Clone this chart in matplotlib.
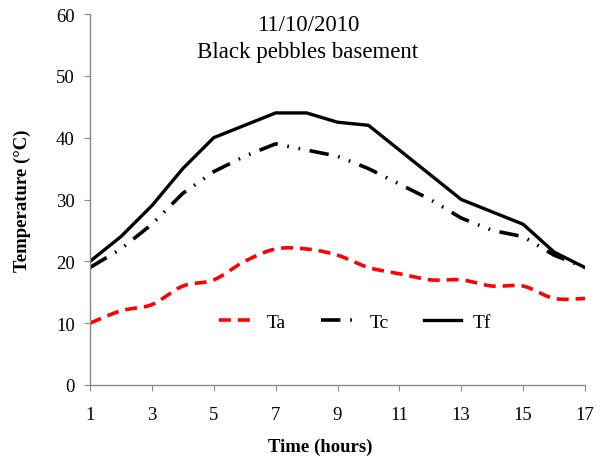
import numpy as np
import matplotlib
matplotlib.use("Agg")
import matplotlib.pyplot as plt

hours = list(range(1, 18))
Ta = [10, 12, 13, 16, 17, 20, 22, 22, 21, 19, 18, 17, 17, 16, 16, 14, 14]
Tc = [19, 22, 26, 31, 34.5, 37, 39, 38, 37, 35, 32.5, 30, 27, 25, 24, 21, 19]
Tf = [20, 24, 29, 35, 40, 42, 44, 44, 42.5, 42, 38, 34, 30, 28, 26, 21.5, 19]
xticks = [1, 3, 5, 7, 9, 11, 13, 15, 17]
yticks = [0, 10, 20, 30, 40, 50, 60]

plt.rcParams['font.family'] = ['Liberation Serif', 'DejaVu Serif']
plt.rcParams['lines.scale_dashes'] = False


def smooth(x, y, n=20):
    # Catmull-Rom style smoothing (like spreadsheet "smoothed line")
    x = np.asarray(x, float); y = np.asarray(y, float)
    P = np.column_stack([x, y])
    P = np.vstack([P[0], P, P[-1]])
    out = []
    for i in range(1, len(P) - 2):
        p0, p1, p2, p3 = P[i - 1], P[i], P[i + 1], P[i + 2]
        b1 = p1 + (p2 - p0) / 6
        b2 = p2 - (p3 - p1) / 6
        t = np.linspace(0, 1, n, endpoint=(i == len(P) - 3))[:, None]
        seg = ((1 - t) ** 3) * p1 + 3 * ((1 - t) ** 2) * t * b1 + 3 * (1 - t) * t ** 2 * b2 + t ** 3 * p2
        out.append(seg)
    out = np.vstack(out)
    return out[:, 0], out[:, 1]


fig = plt.figure(figsize=(6.05, 4.64), dpi=100)
ax = fig.add_axes([90 / 605, 1 - 386 / 464, 495 / 605, 371 / 464])

sx, sy = smooth(hours, Ta)
ax.plot(sx, sy, color='#ff0000', lw=2.6, dashes=(8.6, 5), label='Ta')
ax.plot(hours, Tc, color='black', lw=2.6, dashes=(14, 7, 1.2, 7, 1.2, 7), label='Tc')
ax.plot(hours, Tf, color='black', lw=2.4, label='Tf')

ax.set_xlim(1, 17)
ax.set_ylim(0, 60)
ax.set_xticks(xticks)
ax.set_yticks(yticks)
for s in ['top', 'right']:
    ax.spines[s].set_visible(False)
for s in ['left', 'bottom']:
    ax.spines[s].set_color('#888888')
    ax.spines[s].set_linewidth(1.0)
ax.tick_params(axis='both', direction='out', length=4, color='#888888', labelsize=13.5)
ax.tick_params(axis='y', pad=7)
ax.tick_params(axis='x', pad=11)

ax.set_ylabel('Temperature (°C)', fontsize=13.5, fontweight='bold')
ax.set_xlabel('Time (hours)', fontsize=13.5, fontweight='bold')
ax.yaxis.set_label_coords((22 - 90) / 495, 0.5)
ax.xaxis.set_label_coords((320 - 90) / 495, -(447 - 386) / 371)
ax.xaxis.label.set_va('center')
ax.yaxis.label.set_va('center')

ax.text(0.44, 1.0, '11/10/2010\nBlack pebbles basement', transform=ax.transAxes,
        ha='center', va='top', fontsize=16.5, linespacing=1.4)

leg = ax.legend(loc='center', bbox_to_anchor=(0.535, 0.17), ncol=3, frameon=False,
                fontsize=14, handlelength=1.9, handletextpad=0.6, columnspacing=1.8)

fig.savefig('out.png', dpi=100)
